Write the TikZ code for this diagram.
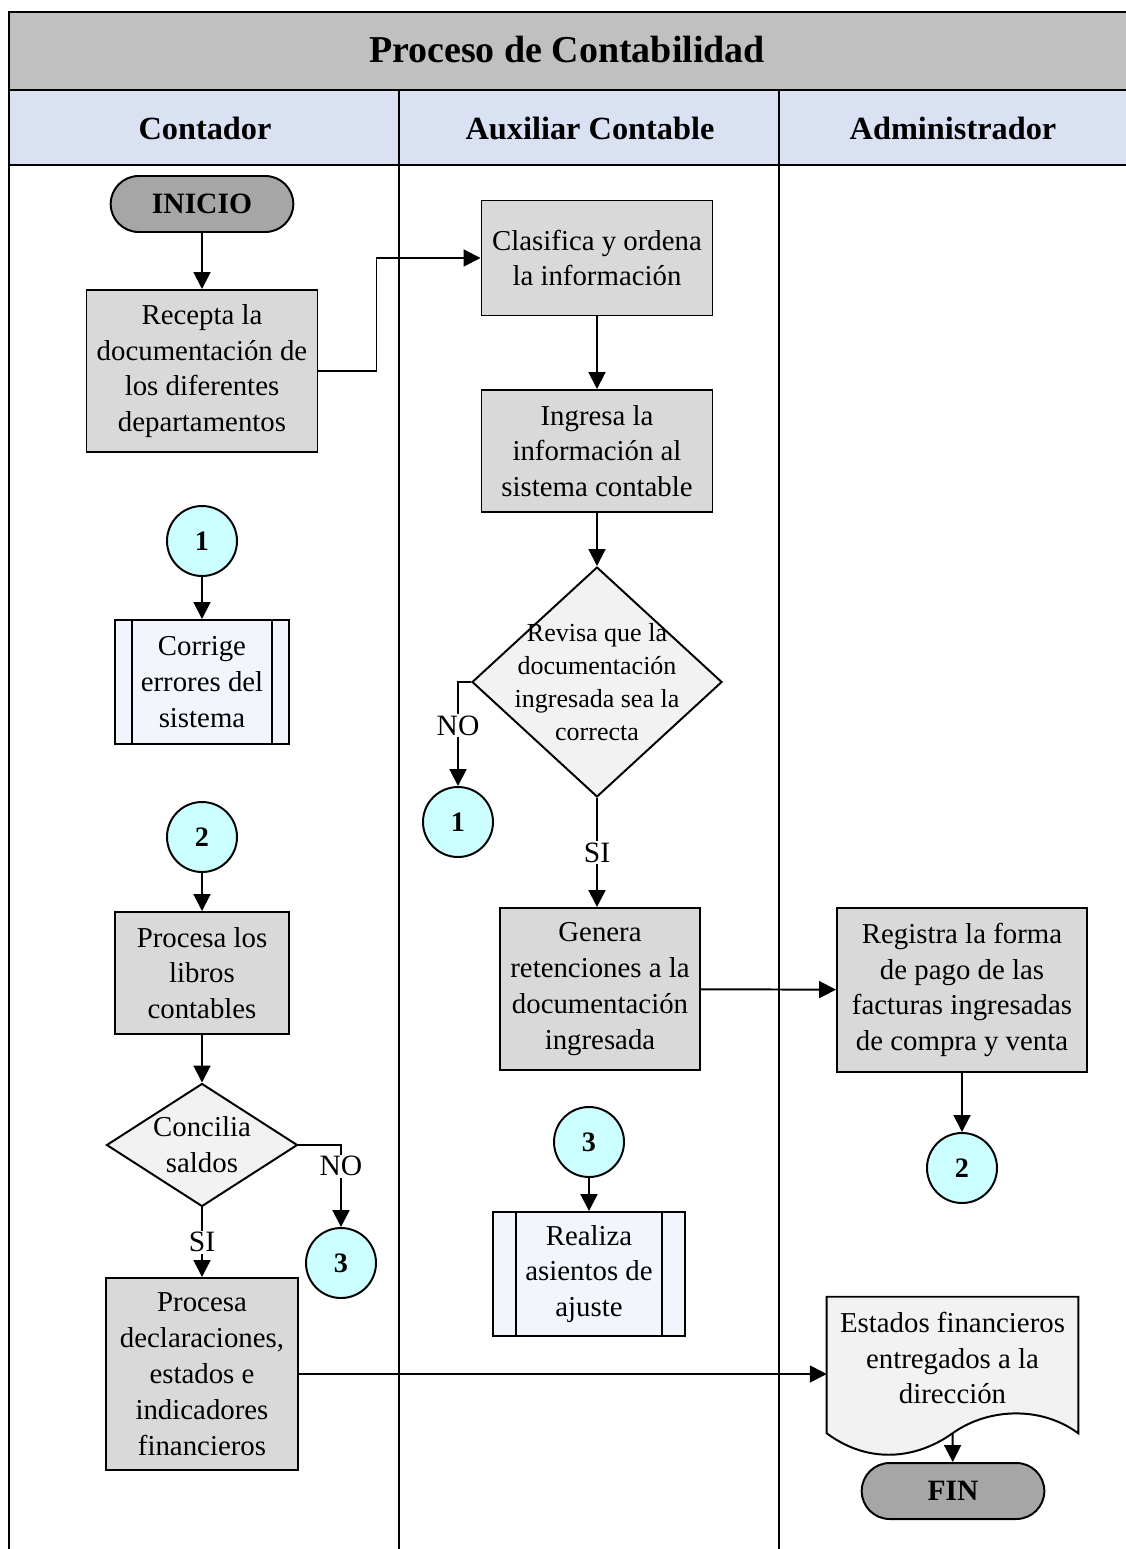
\documentclass[tikz,border=0pt]{standalone}
\usepackage{fontspec}
\setmainfont{Liberation Serif}
\usetikzlibrary{shapes.geometric,shapes.misc,arrows.meta,positioning,backgrounds}
\newcommand\unitpx{0.025cm}
\definecolor{titlegray}{HTML}{C0C0C0}
\definecolor{lanehead}{HTML}{DAE1F3}
\definecolor{procgray}{HTML}{D9D9D9}
\definecolor{termgray}{HTML}{A6A6A6}
\definecolor{decgray}{HTML}{F2F2F2}
\definecolor{conncyan}{HTML}{CCFFFF}
\definecolor{subfill}{HTML}{F2F5FB}
\tikzset{>={Triangle[length=12pt,width=12pt]},
  lane/.style={line width=1.8pt},
  proc/.style={draw, line width=1.4pt, fill=procgray, align=center, inner sep=2pt,
    font=\fontsize{20.5}{25.5}\selectfont},
  term/.style={rounded rectangle, draw, line width=1.4pt, fill=termgray,
    minimum width=192*\unitpx, minimum height=56*\unitpx, font=\bfseries\fontsize{21}{25}\selectfont},
  decision/.style={diamond, draw, line width=1.4pt, fill=decgray, inner sep=0pt},
  conn/.style={circle, draw, line width=1.4pt, fill=conncyan, minimum size=70*\unitpx,
    inner sep=0pt, font=\bfseries\fontsize{20}{24}\selectfont},
  subproc/.style={proc, fill=subfill, path picture={
    \draw[line width=1.4pt] ([xshift=#1]path picture bounding box.north west) -- ([xshift=#1]path picture bounding box.south west)
      ([xshift=-#1]path picture bounding box.north east) -- ([xshift=-#1]path picture bounding box.south east);}},
  flow/.style={->, line width=1.4pt},
  answer/.style={fill=white, inner sep=1pt, font=\fontsize{21}{25}\selectfont}
}

\begin{document}
\begin{tikzpicture}[x=\unitpx, y=-\unitpx]
    \useasboundingbox (0,0) rectangle (1125,1549);
    % frame and lanes
    \fill[titlegray] (9,12) rectangle (1127,90);
    \fill[lanehead] (9,90) rectangle (1127,165);
    \draw[lane] (9,1560) -- (9,12) -- (1127,12);
    \draw[lane] (9,90) -- (1127,90) (9,165) -- (1127,165);
    \draw[lane] (399,90) -- (399,1560) (779,90) -- (779,1560);
    \node[font=\bfseries\fontsize{27}{30}\selectfont] (titulo) at (567,50) {Proceso de Contabilidad};
    \node[font=\bfseries\fontsize{23}{26}\selectfont] (contador) at (205,128) {Contador};
    \node[font=\bfseries\fontsize{23}{26}\selectfont] (auxiliar) at (590,128) {Auxiliar Contable};
    \node[font=\bfseries\fontsize{23}{26}\selectfont] (admin) at (953,128) {Administrador};

    % Contador
    \node[term] (inicio) at (202,204) {INICIO};
    \node[proc, minimum width=231*\unitpx, minimum height=162*\unitpx] (recepta) at (202,371)
        {Recepta la\\documentación de\\los diferentes\\departamentos};
    \node[conn] (uno) at (202,541) {1};
    \node[subproc=0.425cm, minimum width=174*\unitpx, minimum height=124*\unitpx] (corrige) at (202,682)
        {Corrige\\errores del\\sistema};
    \node[conn] (dos) at (202,837) {2};
    \node[proc, minimum width=174*\unitpx, minimum height=122*\unitpx] (libros) at (202,973)
        {Procesa los\\libros\\contables};
    \node[decision, minimum width=191*\unitpx, minimum height=123*\unitpx,
        label={[align=center, font=\fontsize{20.5}{25.5}\selectfont]center:Concilia\\saldos}] (concilia) at (202,1145) {};
    \node[conn] (tresa) at (341,1263) {3};
    \node[proc, minimum width=192*\unitpx, minimum height=192*\unitpx] (declara) at (202,1374)
        {Procesa\\declaraciones,\\estados e\\indicadores\\financieros};

    % Auxiliar Contable
    \node[proc, minimum width=231*\unitpx, minimum height=115*\unitpx] (clasifica) at (597,258)
        {Clasifica y ordena\\la información};
    \node[proc, minimum width=231*\unitpx, minimum height=122*\unitpx] (ingresa) at (597,451)
        {Ingresa la\\información al\\sistema contable};
    \node[decision, minimum width=250*\unitpx, minimum height=230*\unitpx,
        label={[align=center, font=\fontsize{18.5}{23.4}\selectfont]center:Revisa que la\\documentación\\ingresada sea la\\correcta}] (revisa) at (597,682) {};
    \node[conn] (unob) at (458,822) {1};
    \node[proc, minimum width=200*\unitpx, minimum height=162*\unitpx] (genera) at (600,989)
        {Genera\\retenciones a la\\documentación\\ingresada};
    \node[conn] (tresb) at (589,1142) {3};
    \node[subproc=0.575cm, minimum width=192*\unitpx, minimum height=124*\unitpx] (realiza) at (589,1274)
        {Realiza\\asientos de\\ajuste};

    % Administrador
    \node[proc, minimum width=250*\unitpx, minimum height=164*\unitpx] (registra) at (962,990)
        {Registra la forma\\de pago de las\\facturas ingresadas\\de compra y venta};
    \node[conn] (dosb) at (962,1168) {2};
    \node[align=center, minimum width=251*\unitpx, minimum height=122*\unitpx, inner sep=2pt,
        font=\fontsize{20.5}{25.5}\selectfont] (estados) at (952.5,1358)
        {Estados financieros\\entregados a la\\dirección};
    \coordinate (estadosbase) at ([yshift=-0.35cm]estados.south);
    \begin{scope}[on background layer]
        \draw[line width=1.4pt, fill=decgray] ([yshift=-0.35cm]estados.south west) -- (estados.north west) -- (estados.north east)
            -- ([yshift=-0.35cm]estados.south east) .. controls +(-38,-28) and +(35,-25) .. (estadosbase)
            .. controls +(-35,25) and +(43,32) .. ([yshift=-0.35cm]estados.south west) -- cycle;
    \end{scope}
    \node[term] (fin) at (953,1491) {FIN};

    % connectors
    \draw[flow] (inicio) -- (recepta);
    \draw[flow] (recepta.east) -- ++(58,0) |- (clasifica.west);
    \draw[flow] (clasifica) -- (ingresa);
    \draw[flow] (ingresa) -- (revisa);
    \draw[flow] (revisa.west) -| node[answer, pos=0.71] {NO} (unob);
    \draw[flow] (revisa.south) -- node[answer] {SI} (revisa.south |- genera.north);
    \draw[flow] (genera) -- (registra);
    \draw[flow] (registra) -- (dosb);
    \draw[flow] (uno) -- (corrige);
    \draw[flow] (dos) -- (libros);
    \draw[flow] (libros) -- (concilia);
    \draw[flow] (concilia.east) -| node[answer, pos=0.63] {NO} (tresa);
    \draw[flow] (concilia.south) -- node[answer] {SI} (declara);
    \draw[flow] (tresb) -- (realiza);
    \draw[flow] (declara.east) -- (declara.east -| estados.west);
    \draw[flow] (estadosbase) -- (fin);
\end{tikzpicture}
\end{document}
